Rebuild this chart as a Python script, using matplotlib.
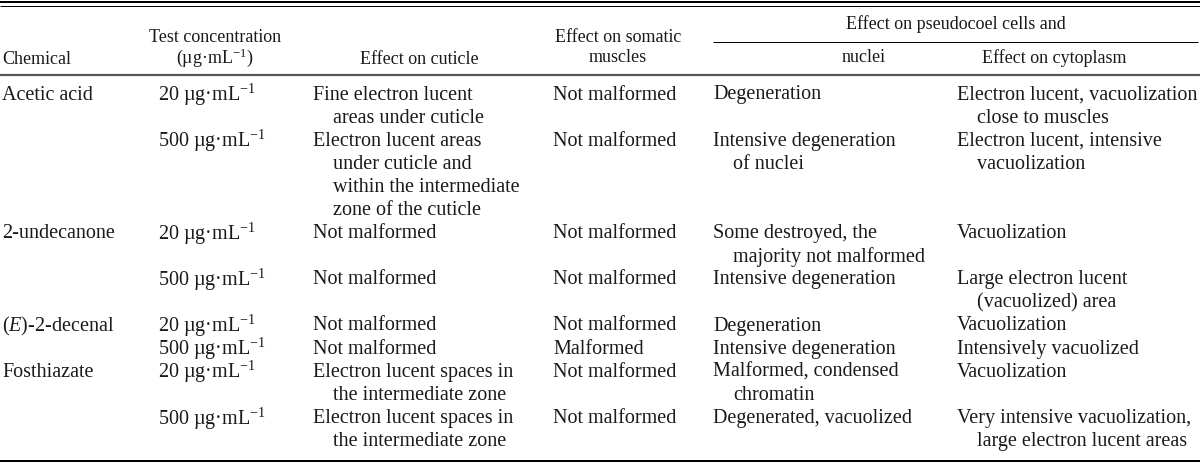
import matplotlib
matplotlib.use("Agg")
import matplotlib.pyplot as plt

plt.rcParams['font.family'] = ['Liberation Serif', 'DejaVu Serif']
plt.rcParams['mathtext.fontset'] = 'custom'
plt.rcParams['mathtext.rm'] = 'Liberation Serif'
plt.rcParams['mathtext.it'] = 'Liberation Serif:italic'

UNIT = "µg·mL$^{-1}$"

# ---- table content ----
chemicals = ["Acetic acid", "", "2-undecanone", "", "($E$)-2-decenal", "", "Fosthiazate", ""]
concentrations = ["20 " + UNIT, "500 " + UNIT, "20 " + UNIT, "500 " + UNIT,
                  "20 " + UNIT, "500 " + UNIT, "20 " + UNIT, "500 " + UNIT]
cuticle = [
    ["Fine electron lucent", "areas under cuticle"],
    ["Electron lucent areas", "under cuticle and", "within the intermediate", "zone of the cuticle"],
    ["Not malformed"],
    ["Not malformed"],
    ["Not malformed"],
    ["Not malformed"],
    ["Electron lucent spaces in", "the intermediate zone"],
    ["Electron lucent spaces in", "the intermediate zone"],
]
muscles = ["Not malformed", "Not malformed", "Not malformed", "Not malformed",
           "Not malformed", "Malformed", "Not malformed", "Not malformed"]
nuclei = [
    ["Degeneration"],
    ["Intensive degeneration", "of nuclei"],
    ["Some destroyed, the", "majority not malformed"],
    ["Intensive degeneration"],
    ["Degeneration"],
    ["Intensive degeneration"],
    ["Malformed, condensed", "chromatin"],
    ["Degenerated, vacuolized"],
]
cytoplasm = [
    ["Electron lucent, vacuolization", "close to muscles"],
    ["Electron lucent, intensive", "vacuolization"],
    ["Vacuolization"],
    ["Large electron lucent", "(vacuolized) area"],
    ["Vacuolization"],
    ["Intensively vacuolized"],
    ["Vacuolization"],
    ["Very intensive vacuolization,", "large electron lucent areas"],
]

header_top = "Effect on pseudocoel cells and"

# ---- layout (pixel coordinates) ----
W, H = 1200, 463
fig = plt.figure(figsize=(W / 100, H / 100), dpi=100)
ax = fig.add_axes([0, 0, 1, 1])
ax.set_xlim(0, W)
ax.set_ylim(H, 0)
ax.axis('off')

TXT = '#1a1a1a'
BODY = 14.5
HEAD = 13
px = 0.72  # points per pixel

# rules
ax.hlines(1.5, 0, W, color='black', lw=2 * px)
ax.hlines(5.5, 0, W, color='black', lw=1 * px)
ax.hlines(42, 713, 1198, color='black', lw=1 * px)
ax.hlines(75, 0, W, color='#555555', lw=2.2 * px)
ax.hlines(461, 0, W, color='black', lw=2 * px)

# headers
def head(x, y, s, ha='center'):
    ax.text(x, y, s, ha=ha, va='center', fontsize=HEAD, color=TXT)

head(2, 59, "Chemical", ha='left')
head(215, 38, "Test concentration")
head(215, 58, "(" + UNIT + ")")
head(419, 59, "Effect on cuticle")
head(618, 38, "Effect on somatic")
head(618, 58, "muscles")
head(956, 24, header_top)
head(864, 58, "nuclei")
head(1054, 58, "Effect on cytoplasm")

# body
col_x = [2, 158, 313, 553, 713, 957]
INDENT = 20
y0, dy = 95, 23.1

def cell(x, line_idx, lines):
    if isinstance(lines, str):
        lines = [lines] if lines else []
    for j, s in enumerate(lines):
        ax.text(x + (INDENT if j > 0 else 0), y0 + dy * (line_idx + j), s,
                ha='left', va='center', fontsize=BODY, color=TXT)

line = 0
for i in range(len(chemicals)):
    cols = [chemicals[i], concentrations[i], cuticle[i], muscles[i], nuclei[i], cytoplasm[i]]
    n = max(len(c) if isinstance(c, list) else 1 for c in cols)
    for x, c in zip(col_x, cols):
        cell(x, line, c)
    line += n

fig.savefig("out.png", dpi=100)
